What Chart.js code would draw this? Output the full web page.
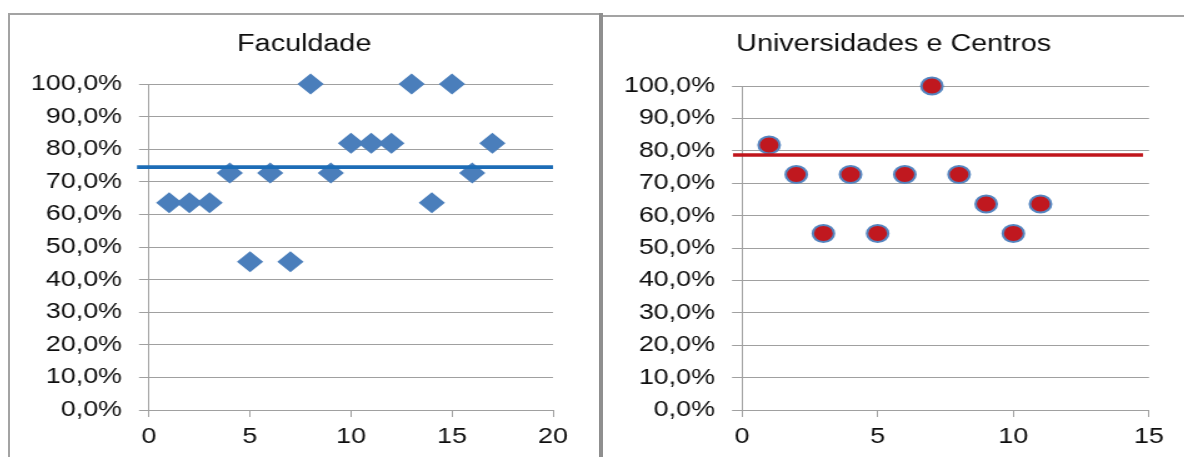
<!DOCTYPE html>
<html>
<head>
<meta charset="utf-8">
<script src="https://cdn.jsdelivr.net/npm/chart.js@4.4.1/dist/chart.umd.min.js"></script>
<style>
  html, body { margin: 0; padding: 0; background: #fff; width: 1184px; height: 457px; overflow: hidden; }
  .frame { position: absolute; box-sizing: border-box; }
  #frameLeft { left: 8px; top: 13px; width: 594px; height: 470px; border: 2px solid #a3a3a3; border-right: none; }
  #divider { left: 599px; top: 13px; width: 4px; height: 470px; background: #8f8f8f; }
  #frameRight { left: 603px; top: 15px; width: 600px; height: 470px; border-top: 2px solid #a3a3a3; }
  .stretch { position: absolute; top: 0; height: 457px; transform: scaleX(1.25); transform-origin: 0 0; }
  #wrapLeft { left: 8px; width: 474px; }
  #wrapRight { left: 603px; width: 465px; }
</style>
</head>
<body>
<div class="frame" id="frameLeft"></div>
<div class="frame" id="frameRight"></div>
<div class="frame" id="divider"></div>
<div class="stretch" id="wrapLeft"><canvas id="faculdade"></canvas></div>
<div class="stretch" id="wrapRight"><canvas id="universidades"></canvas></div>
<script>
// Faculdade: percentage per item
const faculdadeX = [1, 2, 3, 4, 5, 6, 7, 8, 9, 10, 11, 12, 13, 14, 15, 16, 17];
const faculdadeY = [63.6, 63.6, 63.6, 72.7, 45.5, 72.7, 45.5, 100, 72.7, 81.8, 81.8, 81.8, 100, 63.6, 100, 72.7, 81.8];
const faculdadeMean = 74.5;

// Universidades e Centros: percentage per item
const universidadesX = [1, 2, 3, 4, 5, 6, 7, 8, 9, 10, 11];
const universidadesY = [81.8, 72.7, 54.5, 72.7, 54.5, 72.7, 100, 72.7, 63.6, 54.5, 63.6];
const universidadesMean = 78.7;

// Axis ranges and tick steps
const yRange = [0, 100];
const yStep = 10;
const faculdadeXRange = [0, 20];
const universidadesXRange = [0, 15];
const xStep = 5;

const fmtPercent = v => v.toFixed(1).replace('.', ',') + '%';

Chart.defaults.font.family = "'Liberation Sans', Arial, sans-serif";
Chart.defaults.color = '#0d0d0d';

// horizontal reference line at the mean value, drawn through the y scale
const meanLine = {
  id: 'meanLine',
  afterDatasetsDraw(chart, args, o) {
    const y = chart.scales.y.getPixelForValue(o.value);
    const { left, right } = chart.chartArea;
    const ctx = chart.ctx;
    ctx.save();
    ctx.strokeStyle = o.color;
    ctx.lineWidth = o.width;
    ctx.beginPath();
    ctx.moveTo(left - o.before, y);
    ctx.lineTo(right - o.after, y);
    ctx.stroke();
    ctx.restore();
  }
};

// centre the title over the full canvas width, ignoring the right padding
const titleSpan = {
  id: 'titleSpan',
  afterLayout(chart) {
    const t = chart.titleBlock;
    if (!t) return;
    t.left = 0;
    t.right = chart.width;
    t.width = chart.width;
  }
};

function scatterChart(id, cfg) {
  const points = cfg.xs.map((x, i) => ({ x, y: cfg.ys[i] }));
  return new Chart(document.getElementById(id), {
    type: 'scatter',
    data: {
      datasets: [{
        label: cfg.title,
        data: points,
        clip: false,
        pointStyle: cfg.pointStyle,
        pointRadius: cfg.pointRadius,
        pointBackgroundColor: cfg.fill,
        pointBorderColor: cfg.stroke,
        pointBorderWidth: cfg.strokeWidth,
        pointHoverRadius: cfg.pointRadius
      }]
    },
    options: {
      responsive: true,
      maintainAspectRatio: false,
      animation: false,
      events: [],
      layout: { padding: { left: 0, right: cfg.padRight, top: 0, bottom: 0 } },
      plugins: {
        legend: { display: false },
        tooltip: { enabled: false },
        title: {
          display: true,
          text: cfg.title,
          color: '#0d0d0d',
          font: { size: 23, weight: 'normal' },
          padding: { top: 31, bottom: cfg.titleGap }
        },
        meanLine: cfg.mean
      },
      scales: {
        x: {
          type: 'linear',
          min: cfg.xRange[0],
          max: cfg.xRange[1],
          ticks: { stepSize: xStep, font: { size: 21.5 }, padding: 7, color: '#0d0d0d' },
          grid: { drawOnChartArea: false, drawTicks: true, tickLength: 7, color: '#a0a0a0' },
          border: { color: '#a0a0a0', width: 1 },
          afterFit: s => { s.height = 47; }
        },
        y: {
          min: yRange[0],
          max: yRange[1],
          ticks: { stepSize: yStep, font: { size: 21.5 }, padding: 13.6, color: '#0d0d0d', callback: fmtPercent },
          grid: { drawTicks: true, tickLength: 8, color: '#a0a0a0', lineWidth: 1 },
          border: { color: '#a0a0a0', width: 1 },
          afterFit: s => { s.width = cfg.axisWidth; }
        }
      }
    },
    plugins: [meanLine, titleSpan]
  });
}

scatterChart('faculdade', {
  title: 'Faculdade',
  xs: faculdadeX, ys: faculdadeY,
  xRange: faculdadeXRange,
  pointStyle: 'rectRot', pointRadius: 10.5,
  fill: '#4a7ebb', stroke: '#4a7ebb', strokeWidth: 0,
  axisWidth: 112.8, padRight: 38, titleGap: 25.4,
  mean: { value: faculdadeMean, color: '#1c6cb6', width: 3.6, before: 9.6, after: 0 }
});

scatterChart('universidades', {
  title: 'Universidades e Centros',
  xs: universidadesX, ys: universidadesY,
  xRange: universidadesXRange,
  pointStyle: 'circle', pointRadius: 8.5,
  fill: '#c0181f', stroke: '#5485c0', strokeWidth: 2,
  axisWidth: 111.2, padRight: 28.2, titleGap: 27.4,
  mean: { value: universidadesMean, color: '#c0161c', width: 3.6, before: 7.2, after: 4.8 }
});
</script>
</body>
</html>
